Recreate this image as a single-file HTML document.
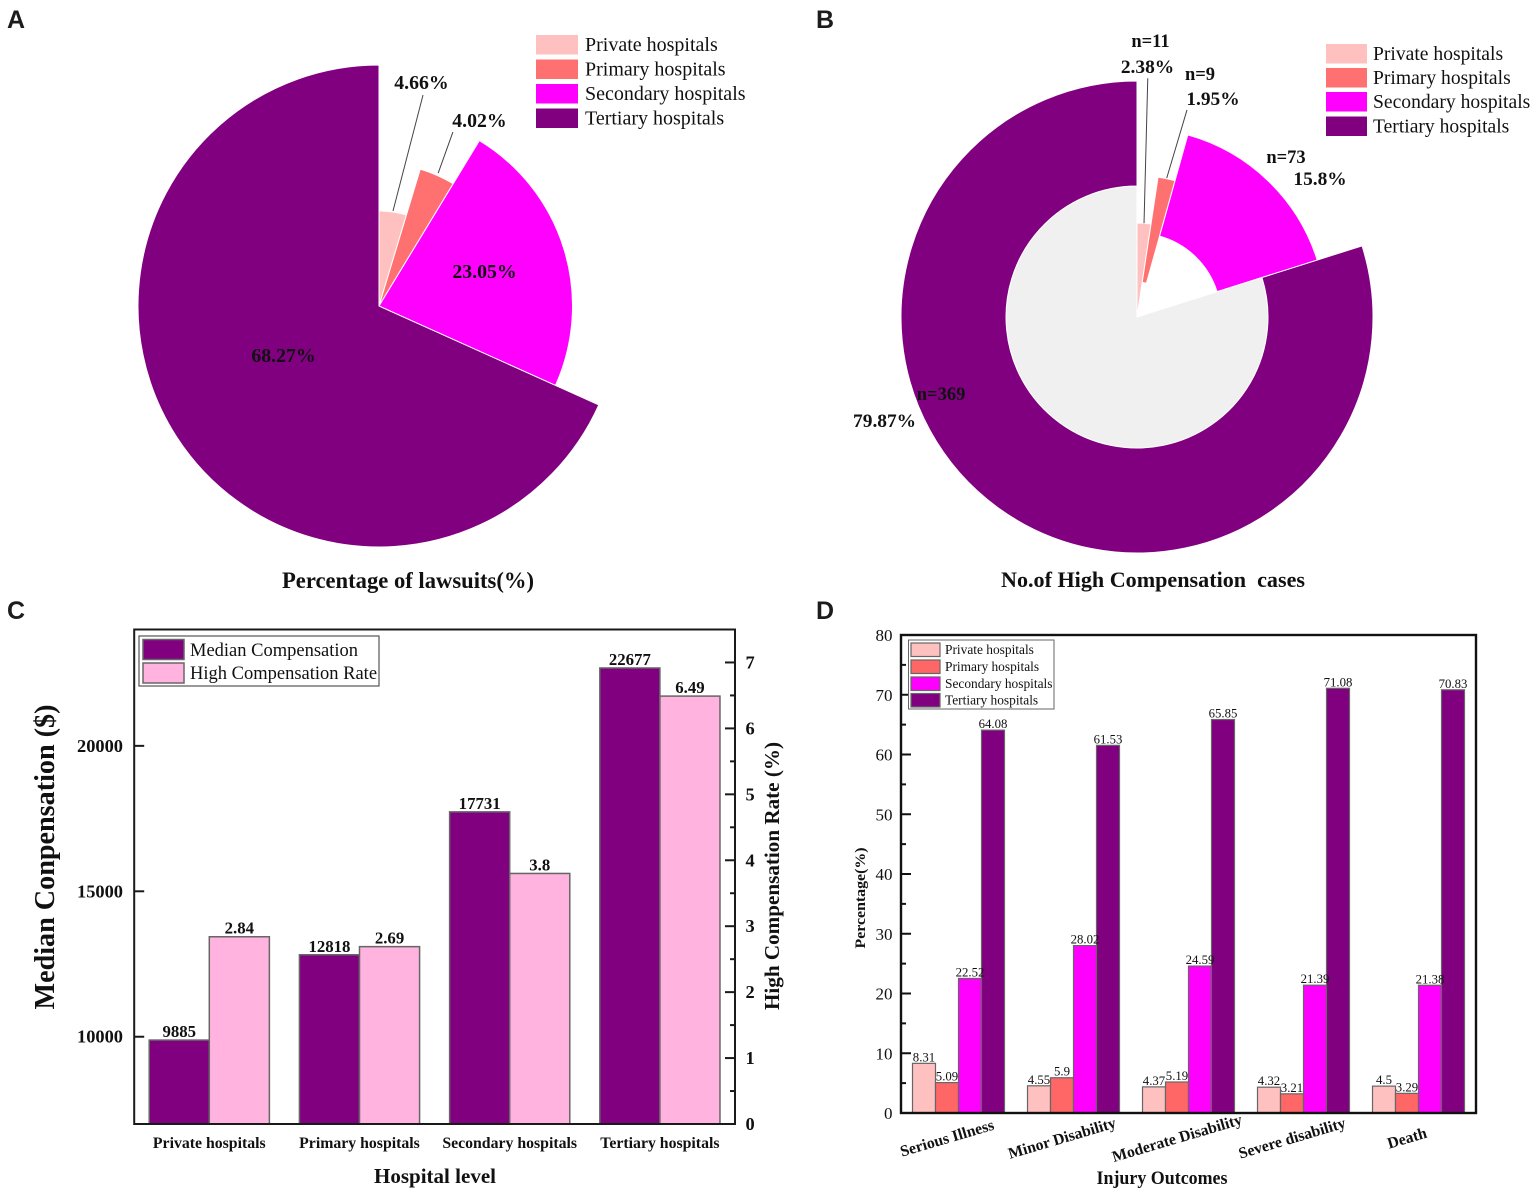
<!DOCTYPE html>
<html lang="en">
<head>
<meta charset="utf-8">
<title>Hospital level lawsuits and compensation</title>
<style>
html,body{margin:0;padding:0;background:#fff;width:1535px;height:1192px;overflow:hidden}
svg{display:block}
text{font-family:"Liberation Serif","Noto Serif CJK SC",serif;fill:#111}
.b{font-weight:700}
.letter{font-family:"Liberation Sans",sans-serif;font-weight:700;font-size:25px;fill:#1c1c1c}
.m{text-anchor:middle}
.e{text-anchor:end}
</style>
</head>
<body>
<svg id="figure" xmlns="http://www.w3.org/2000/svg" width="1535" height="1192" viewBox="0 0 1535 1192">
  <rect x="0" y="0" width="1535" height="1192" fill="#fff"/>

  <!-- Panel A -->
  <g>
    <text class="letter" x="7" y="28">A</text>
    <g id="pieA"></g>
    <text class="b m" x="408" y="588" font-size="23" textLength="252" lengthAdjust="spacingAndGlyphs">Percentage of lawsuits(%)</text>
    <g font-size="20">
      <rect x="536" y="35" width="42" height="19.5" fill="#FFC0C0"/>
      <text x="585" y="51">Private hospitals</text>
      <rect x="536" y="59.5" width="42" height="19.5" fill="#FF7070"/>
      <text x="585" y="75.5">Primary hospitals</text>
      <rect x="536" y="84" width="42" height="19.5" fill="#FF00FF"/>
      <text x="585" y="100">Secondary hospitals</text>
      <rect x="536" y="108.5" width="42" height="19.5" fill="#800080"/>
      <text x="585" y="124.5">Tertiary hospitals</text>
    </g>
  </g>

  <!-- Panel B -->
  <g>
    <text class="letter" x="816" y="28">B</text>
    <g id="pieB"></g>
    <text class="b m" x="1153" y="587" font-size="22" xml:space="preserve" textLength="304" lengthAdjust="spacingAndGlyphs">No.of High Compensation  cases</text>
    <g font-size="19.6">
      <rect x="1326" y="44" width="41" height="19.5" fill="#FFC0C0"/>
      <text x="1373" y="60">Private hospitals</text>
      <rect x="1326" y="68" width="41" height="19.5" fill="#FF7070"/>
      <text x="1373" y="84">Primary hospitals</text>
      <rect x="1326" y="92" width="41" height="19.5" fill="#FF00FF"/>
      <text x="1373" y="108">Secondary hospitals</text>
      <rect x="1326" y="116.5" width="41" height="19.5" fill="#800080"/>
      <text x="1373" y="132.5">Tertiary hospitals</text>
    </g>
  </g>

  <!-- Panel C -->
  <g>
    <text class="letter" x="7" y="619">C</text>
    <g id="barsC"></g>
    <rect x="134.2" y="629.5" width="600.8" height="494.5" fill="none" stroke="#1a1a1a" stroke-width="2"/>
    <g id="axesC"></g>
    <text class="b m" transform="translate(54 857) rotate(-90)" font-size="29" textLength="305" lengthAdjust="spacingAndGlyphs">Median Conpensation ($)</text>
    <text class="b m" transform="translate(779 876) rotate(-90)" font-size="21.5" textLength="268" lengthAdjust="spacingAndGlyphs">High Compensation Rate (%)</text>
    <text class="b m" x="435" y="1183" font-size="21" textLength="122" lengthAdjust="spacingAndGlyphs">Hospital level</text>
    <g font-size="18.5">
      <rect x="139" y="636" width="240" height="50" fill="#fff" stroke="#555" stroke-width="1.2"/>
      <rect x="143" y="639.5" width="41" height="20" fill="#800080" stroke="#666" stroke-width="1.5"/>
      <text x="190" y="656">Median Compensation</text>
      <rect x="143" y="663" width="41" height="20" fill="#FFB3DE" stroke="#666" stroke-width="1.5"/>
      <text x="190" y="679">High Compensation Rate</text>
    </g>
  </g>

  <!-- Panel D -->
  <g>
    <text class="letter" x="816" y="619">D</text>
    <g id="barsD"></g>
    <rect x="901" y="635" width="575" height="478" fill="none" stroke="#111" stroke-width="2.4"/>
    <g id="axesD"></g>
    <text class="b m" transform="translate(865 898) rotate(-90)" font-size="14.5" textLength="101" lengthAdjust="spacingAndGlyphs">Percentage(%)</text>
    <text class="b m" x="1162" y="1184" font-size="18.5" textLength="131" lengthAdjust="spacingAndGlyphs">Injury Outcomes</text>
    <g font-size="13.4">
      <rect x="908.5" y="640" width="145.5" height="69" fill="#fff" stroke="#666" stroke-width="1"/>
      <rect x="911" y="643" width="29" height="13.5" fill="#FFC0C0" stroke="#666" stroke-width="1.2"/>
      <text x="945" y="654">Private hospitals</text>
      <rect x="911" y="660" width="29" height="13.5" fill="#FF6666" stroke="#666" stroke-width="1.2"/>
      <text x="945" y="671">Primary hospitals</text>
      <rect x="911" y="677" width="29" height="13.5" fill="#FF00FF" stroke="#666" stroke-width="1.2"/>
      <text x="945" y="688">Secondary hospitals</text>
      <rect x="911" y="693.5" width="29" height="13.5" fill="#800080" stroke="#666" stroke-width="1.2"/>
      <text x="945" y="704.5">Tertiary hospitals</text>
    </g>
  </g>
</svg>

<script>
// ---- Data ----
const lawsuitShares = [4.66, 4.02, 23.05, 68.27];
const highCompShares = [2.38, 1.95, 15.8, 79.87];
const highCompCounts = [11, 9, 73, 369];
const hospitalLevels = ['Private hospitals', 'Primary hospitals', 'Secondary hospitals', 'Tertiary hospitals'];
const medianCompensation = [9885, 12818, 17731, 22677];
const highCompRate = [2.84, 2.69, 3.8, 6.49];
const medianTicks = [10000, 15000, 20000];
const rateTicks = [0, 1, 2, 3, 4, 5, 6, 7];
const outcomes = ['Serious Illness', 'Minor Disability', 'Moderate Disability', 'Severe disability', 'Death'];
const outcomePrivate = [8.31, 4.55, 4.37, 4.32, 4.5];
const outcomePrimary = [5.09, 5.9, 5.19, 3.21, 3.29];
const outcomeSecondary = [22.52, 28.02, 24.59, 21.39, 21.38];
const outcomeTertiary = [64.08, 61.53, 65.85, 71.08, 70.83];
const percentTicks = [0, 10, 20, 30, 40, 50, 60, 70, 80];

// ---- Helpers ----
const NS = 'http://www.w3.org/2000/svg';
function make(parent, tag, attrs, content) {
  const node = document.createElementNS(NS, tag);
  for (const k in attrs) node.setAttribute(k, attrs[k]);
  if (content !== undefined) node.textContent = content;
  parent.appendChild(node);
  return node;
}
function polar(cx, cy, r, deg) {
  const a = deg * Math.PI / 180;
  return [cx + r * Math.sin(a), cy - r * Math.cos(a)];
}
function sectorPath(cx, cy, r0, r1, a0, a1) {
  const large = a1 - a0 > 180 ? 1 : 0;
  const p0 = polar(cx, cy, r1, a0), p1 = polar(cx, cy, r1, a1);
  if (r0 <= 0) return `M${cx} ${cy}L${p0[0]} ${p0[1]}A${r1} ${r1} 0 ${large} 1 ${p1[0]} ${p1[1]}Z`;
  const p2 = polar(cx, cy, r0, a1), p3 = polar(cx, cy, r0, a0);
  return `M${p0[0]} ${p0[1]}A${r1} ${r1} 0 ${large} 1 ${p1[0]} ${p1[1]}L${p2[0]} ${p2[1]}A${r0} ${r0} 0 ${large} 0 ${p3[0]} ${p3[1]}Z`;
}
const sliceColors = ['#FFC0C0', '#FF7070', '#FF00FF', '#800080'];
const sliceKeys = ['private', 'primary', 'secondary', 'tertiary'];

// ---- Panel A pie ----
(function () {
  const g = document.getElementById('pieA');
  const cx = 379, cy = 306;
  const outer = [95, 143, 193.5, 241];
  const labelPolar = [[221.1, 2.69], [205.3, 5.29], [109.2, 2.4], [110.7, 2.5]];
  const leaders = [[96, 215.5, 3.4], [145.5, 189, -1]];
  const total = lawsuitShares.reduce((a, b) => a + b, 0);
  let start = 0;
  lawsuitShares.forEach((v, i) => {
    const end = start + v / total * 360, mid = (start + end) / 2;
    const slice = make(g, 'path', { d: sectorPath(cx, cy, 0, outer[i], start, end), fill: sliceColors[i], stroke: '#fff', 'stroke-width': 1 });
    
    
    if (leaders[i]) {
      const a = polar(cx, cy, leaders[i][0], mid), b = polar(cx, cy, leaders[i][1], mid + leaders[i][2]);
      const line = make(g, 'line', { x1: a[0], y1: a[1], x2: b[0], y2: b[1], stroke: '#444', 'stroke-width': 1 });
      
      
    }
    const p = polar(cx, cy, labelPolar[i][0], mid + labelPolar[i][1]);
    const label = make(g, 'text', { x: p[0], y: p[1], class: 'b m', 'font-size': 19.8 }, v + '%');
    
    
    start = end;
  });
})();

// ---- Panel B ring ----
(function () {
  const g = document.getElementById('pieB');
  const cx = 1137, cy = 317;
  const outer = [94, 141.5, 189, 236];
  const inner = [0, 35, 84, 131];
  const countPolar = [[270.3, -1.42], [245.2, 2.81], [214.3, 0.03], [212.8, 30.8]];
  const sharePolar = [[244.2, -1.82], [225.2, 7.64], [225.6, 10.2], [275.4, 30.2]];
  const leaders = [[94, 239, -1.7], [142, 213, 1.5]];
  const total = highCompShares.reduce((a, b) => a + b, 0);
  let start = 0;
  highCompShares.forEach((v, i) => {
    const end = start + v / total * 360, mid = (start + end) / 2;
    if (i === 3) {
      const core = make(g, 'path', { d: sectorPath(cx, cy, 0, inner[i], start, end), fill: '#F0F0F0', stroke: '#fff', 'stroke-width': 1 });
      
      
    }
    const slice = make(g, 'path', { d: sectorPath(cx, cy, inner[i], outer[i], start, end), fill: sliceColors[i], stroke: '#fff', 'stroke-width': 1 });
    
    
    if (leaders[i]) {
      const a = polar(cx, cy, leaders[i][0], mid), b = polar(cx, cy, leaders[i][1], mid + leaders[i][2]);
      const line = make(g, 'line', { x1: a[0], y1: a[1], x2: b[0], y2: b[1], stroke: '#444', 'stroke-width': 1 });
      
      
    }
    const pn = polar(cx, cy, countPolar[i][0], mid + countPolar[i][1]);
    const count = make(g, 'text', { x: pn[0], y: pn[1], class: 'b m', 'font-size': 18.5 }, 'n=' + highCompCounts[i]);
    
    
    const ps = polar(cx, cy, sharePolar[i][0], mid + sharePolar[i][1]);
    const share = make(g, 'text', { x: ps[0], y: ps[1], class: 'b m', 'font-size': 19.4 }, v + '%');
    
    
    start = end;
  });
})();

// ---- Panel C dual axis bars ----
(function () {
  const bars = document.getElementById('barsC');
  const axes = document.getElementById('axesC');
  const left = 134.2, right = 735, top = 629.5, bottom = 1124;
  const pitch = (right - left) / hospitalLevels.length;
  const barW = pitch * 0.4;
  const yMedian = v => bottom - (v - 7000) / (24000 - 7000) * (bottom - top);
  const yRate = v => bottom - v / 7.5 * (bottom - top);
  const xCenter = i => left + pitch * (i + 0.5);

  hospitalLevels.forEach((name, i) => {
    const y1 = yMedian(medianCompensation[i]);
    const bar1 = make(bars, 'rect', { x: xCenter(i) - barW, y: y1, width: barW, height: bottom - y1, fill: '#800080', stroke: '#666', 'stroke-width': 1.5 });
    
    
    const y2 = yRate(highCompRate[i]);
    const bar2 = make(bars, 'rect', { x: xCenter(i), y: y2, width: barW, height: bottom - y2, fill: '#FFB3DE', stroke: '#666', 'stroke-width': 1.5 });
    
    
    const t1 = make(bars, 'text', { x: xCenter(i) - barW / 2, y: y1 - 3, class: 'b m', 'font-size': 16.8 }, String(medianCompensation[i]));
    
    
    const t2 = make(bars, 'text', { x: xCenter(i) + barW / 2, y: y2 - 3, class: 'b m', 'font-size': 16.8 }, String(highCompRate[i]));
    
    
    const cat = make(axes, 'text', { x: xCenter(i), y: 1148, class: 'b m', 'font-size': 15.8 }, name);
    
    
  });

  medianTicks.forEach(v => {
    const y = yMedian(v);
    const tick = make(axes, 'line', { x1: left, x2: left + 10, y1: y, y2: y, stroke: '#1a1a1a', 'stroke-width': 2 });
    
    
    const label = make(axes, 'text', { x: 123, y: y + 6, class: 'b e', 'font-size': 18.4 }, String(v));
    
    
  });

  rateTicks.forEach(v => {
    const y = yRate(v);
    const tick = make(axes, 'line', { x1: right, x2: right - 10, y1: y, y2: y, stroke: '#1a1a1a', 'stroke-width': 2 });
    
    
    const minorY = yRate(v + 0.5);
    const minor = make(axes, 'line', { x1: right, x2: right - 5, y1: minorY, y2: minorY, stroke: '#1a1a1a', 'stroke-width': 2 });
    
    
    const label = make(axes, 'text', { x: 745.5, y: y + 6, class: 'b', 'font-size': 18.4 }, String(v));
    
    
  });
})();

// ---- Panel D grouped bars ----
(function () {
  const bars = document.getElementById('barsD');
  const axes = document.getElementById('axesD');
  const left = 901, right = 1476, top = 635, bottom = 1113;
  const pitch = (right - left) / outcomes.length;
  const barW = pitch * 0.2;
  const y = v => bottom - v / 80 * (bottom - top);
  const xCenter = i => left + pitch * (i + 0.5);
  const series = [outcomePrivate, outcomePrimary, outcomeSecondary, outcomeTertiary];
  const fills = ['#FFC0C0', '#FF6666', '#FF00FF', '#800080'];

  outcomes.forEach((name, i) => {
    series.forEach((values, s) => {
      const top_ = y(values[i]);
      const x = xCenter(i) + (s - 2) * barW;
      const bar = make(bars, 'rect', { x: x, y: top_, width: barW, height: bottom - top_, fill: fills[s], stroke: '#666', 'stroke-width': 1.2 });
      
      
    });
    series.forEach((values, s) => {
      const x = xCenter(i) + (s - 2) * barW + barW / 2;
      const label = make(bars, 'text', { x: x, y: y(values[i]) - 2, class: 'm', 'font-size': 12.8 }, String(values[i]));
      
      
    });
    const cat = make(axes, 'text', { class: 'b m', 'font-size': 15.8, transform: `translate(${xCenter(i) - 10} 1143) rotate(-16.5)` }, name);
    
    
  });

  percentTicks.forEach(v => {
    const yy = y(v);
    const tick = make(axes, 'line', { x1: left, x2: left + 10, y1: yy, y2: yy, stroke: '#111', 'stroke-width': 2 });
    
    
    const label = make(axes, 'text', { x: 892.5, y: yy + 6, class: 'e', 'font-size': 17 }, String(v));
    
    
    if (v < 80) {
      const my = y(v + 5);
      const minor = make(axes, 'line', { x1: left, x2: left + 5, y1: my, y2: my, stroke: '#111', 'stroke-width': 2 });
      
      
    }
  });
})();
</script>
</body>
</html>
